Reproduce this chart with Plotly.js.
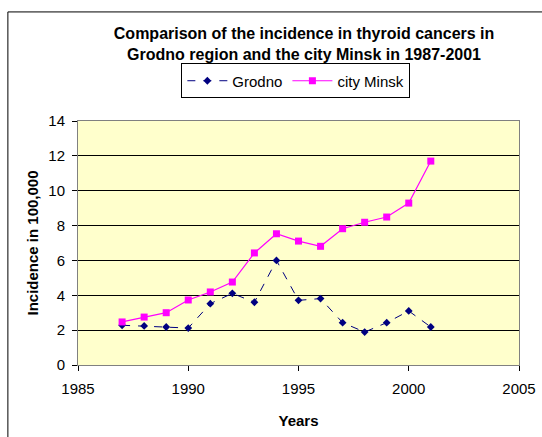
<!DOCTYPE html>
<html>
<head>
<meta charset="utf-8">
<script src="https://cdn.plot.ly/plotly-3.0.1.min.js"></script>
<style>
  html, body { margin: 0; padding: 0; background: #fff; }
  #chart { width: 542px; height: 437px; }
</style>
</head>
<body>
<div id="chart"></div>
<script>
var years = [1987, 1988, 1989, 1990, 1991, 1992, 1993, 1994, 1995, 1996, 1997, 1998, 1999, 2000, 2001];
var grodno = [2.28, 2.24, 2.18, 2.12, 3.52, 4.11, 3.6, 6.0, 3.71, 3.81, 2.43, 1.89, 2.43, 3.1, 2.18];
var minsk = [2.47, 2.75, 3.0, 3.73, 4.19, 4.76, 6.43, 7.53, 7.11, 6.81, 7.82, 8.19, 8.49, 9.29, 11.7];
var xTicks = [1985, 1990, 1995, 2000, 2005];
var yTicks = [0, 2, 4, 6, 8, 10, 12, 14];

var traces = [{
    x: years,
    y: grodno,
    type: 'scatter',
    mode: 'lines+markers',
    name: 'Grodno',
    line: {color: '#000080', width: 1, dash: '8px,8px'},
    marker: {symbol: 'diamond', size: 6, color: '#000080'}
}, {
    x: years,
    y: minsk,
    type: 'scatter',
    mode: 'lines+markers',
    name: 'city Minsk',
    line: {color: '#FF00FF', width: 1.2},
    marker: {symbol: 'square', size: 7, color: '#FF00FF'}
}];

var layout = {
    width: 542,
    height: 437,
    margin: {l: 78, r: 23, t: 121, b: 72},
    paper_bgcolor: '#ffffff',
    plot_bgcolor: '#FFFFCC',
    font: {family: 'Arial, Liberation Sans, sans-serif', size: 15, color: '#000'},
    showlegend: true,
    title: {
        text: '<b>Comparison of the incidence in thyroid cancers in<br>Grodno region and the city Minsk in 1987-2001</b>',
        font: {size: 16, color: '#000'},
        x: 0.561, xanchor: 'center',
        y: 0.911, yanchor: 'middle'
    },
    legend: {
        orientation: 'h',
        x: 0.494, xanchor: 'center',
        y: 1.164, yanchor: 'middle',
        bordercolor: '#000',
        borderwidth: 1,
        bgcolor: '#fff',
        font: {size: 15},
        itemwidth: 40
    },
    xaxis: {
        range: [1985, 2005],
        tickvals: xTicks,
        ticks: 'outside',
        ticklen: 5,
        tickcolor: '#000',
        ticklabelstandoff: 5,
        showgrid: false,
        zeroline: false,
        showline: true,
        linecolor: '#808080',
        mirror: true,
        tickfont: {size: 15},
        title: {text: '<b>Years</b>', font: {size: 15}, standoff: 19}
    },
    yaxis: {
        range: [0, 14],
        tickvals: yTicks,
        ticks: 'outside',
        ticklen: 5,
        tickcolor: '#000',
        ticklabelstandoff: 4,
        showgrid: true,
        gridcolor: '#000',
        gridwidth: 1,
        zeroline: false,
        showline: true,
        linecolor: '#808080',
        mirror: true,
        tickfont: {size: 15},
        title: {text: '<b>Incidence in 100,000</b>', font: {size: 15}, standoff: 6}
    },
    shapes: [
        {type: 'line', xref: 'paper', yref: 'paper', x0: -0.159, x1: -0.159, y0: -0.4, y1: 1.447,
         line: {color: '#000', width: 1}},
        {type: 'line', xref: 'paper', yref: 'paper', x0: -0.159, x1: 1.06, y0: 1.447, y1: 1.447,
         line: {color: '#000', width: 1}}
    ]
};

Plotly.newPlot('chart', traces, layout, {displayModeBar: false, staticPlot: true});
</script>
</body>
</html>
